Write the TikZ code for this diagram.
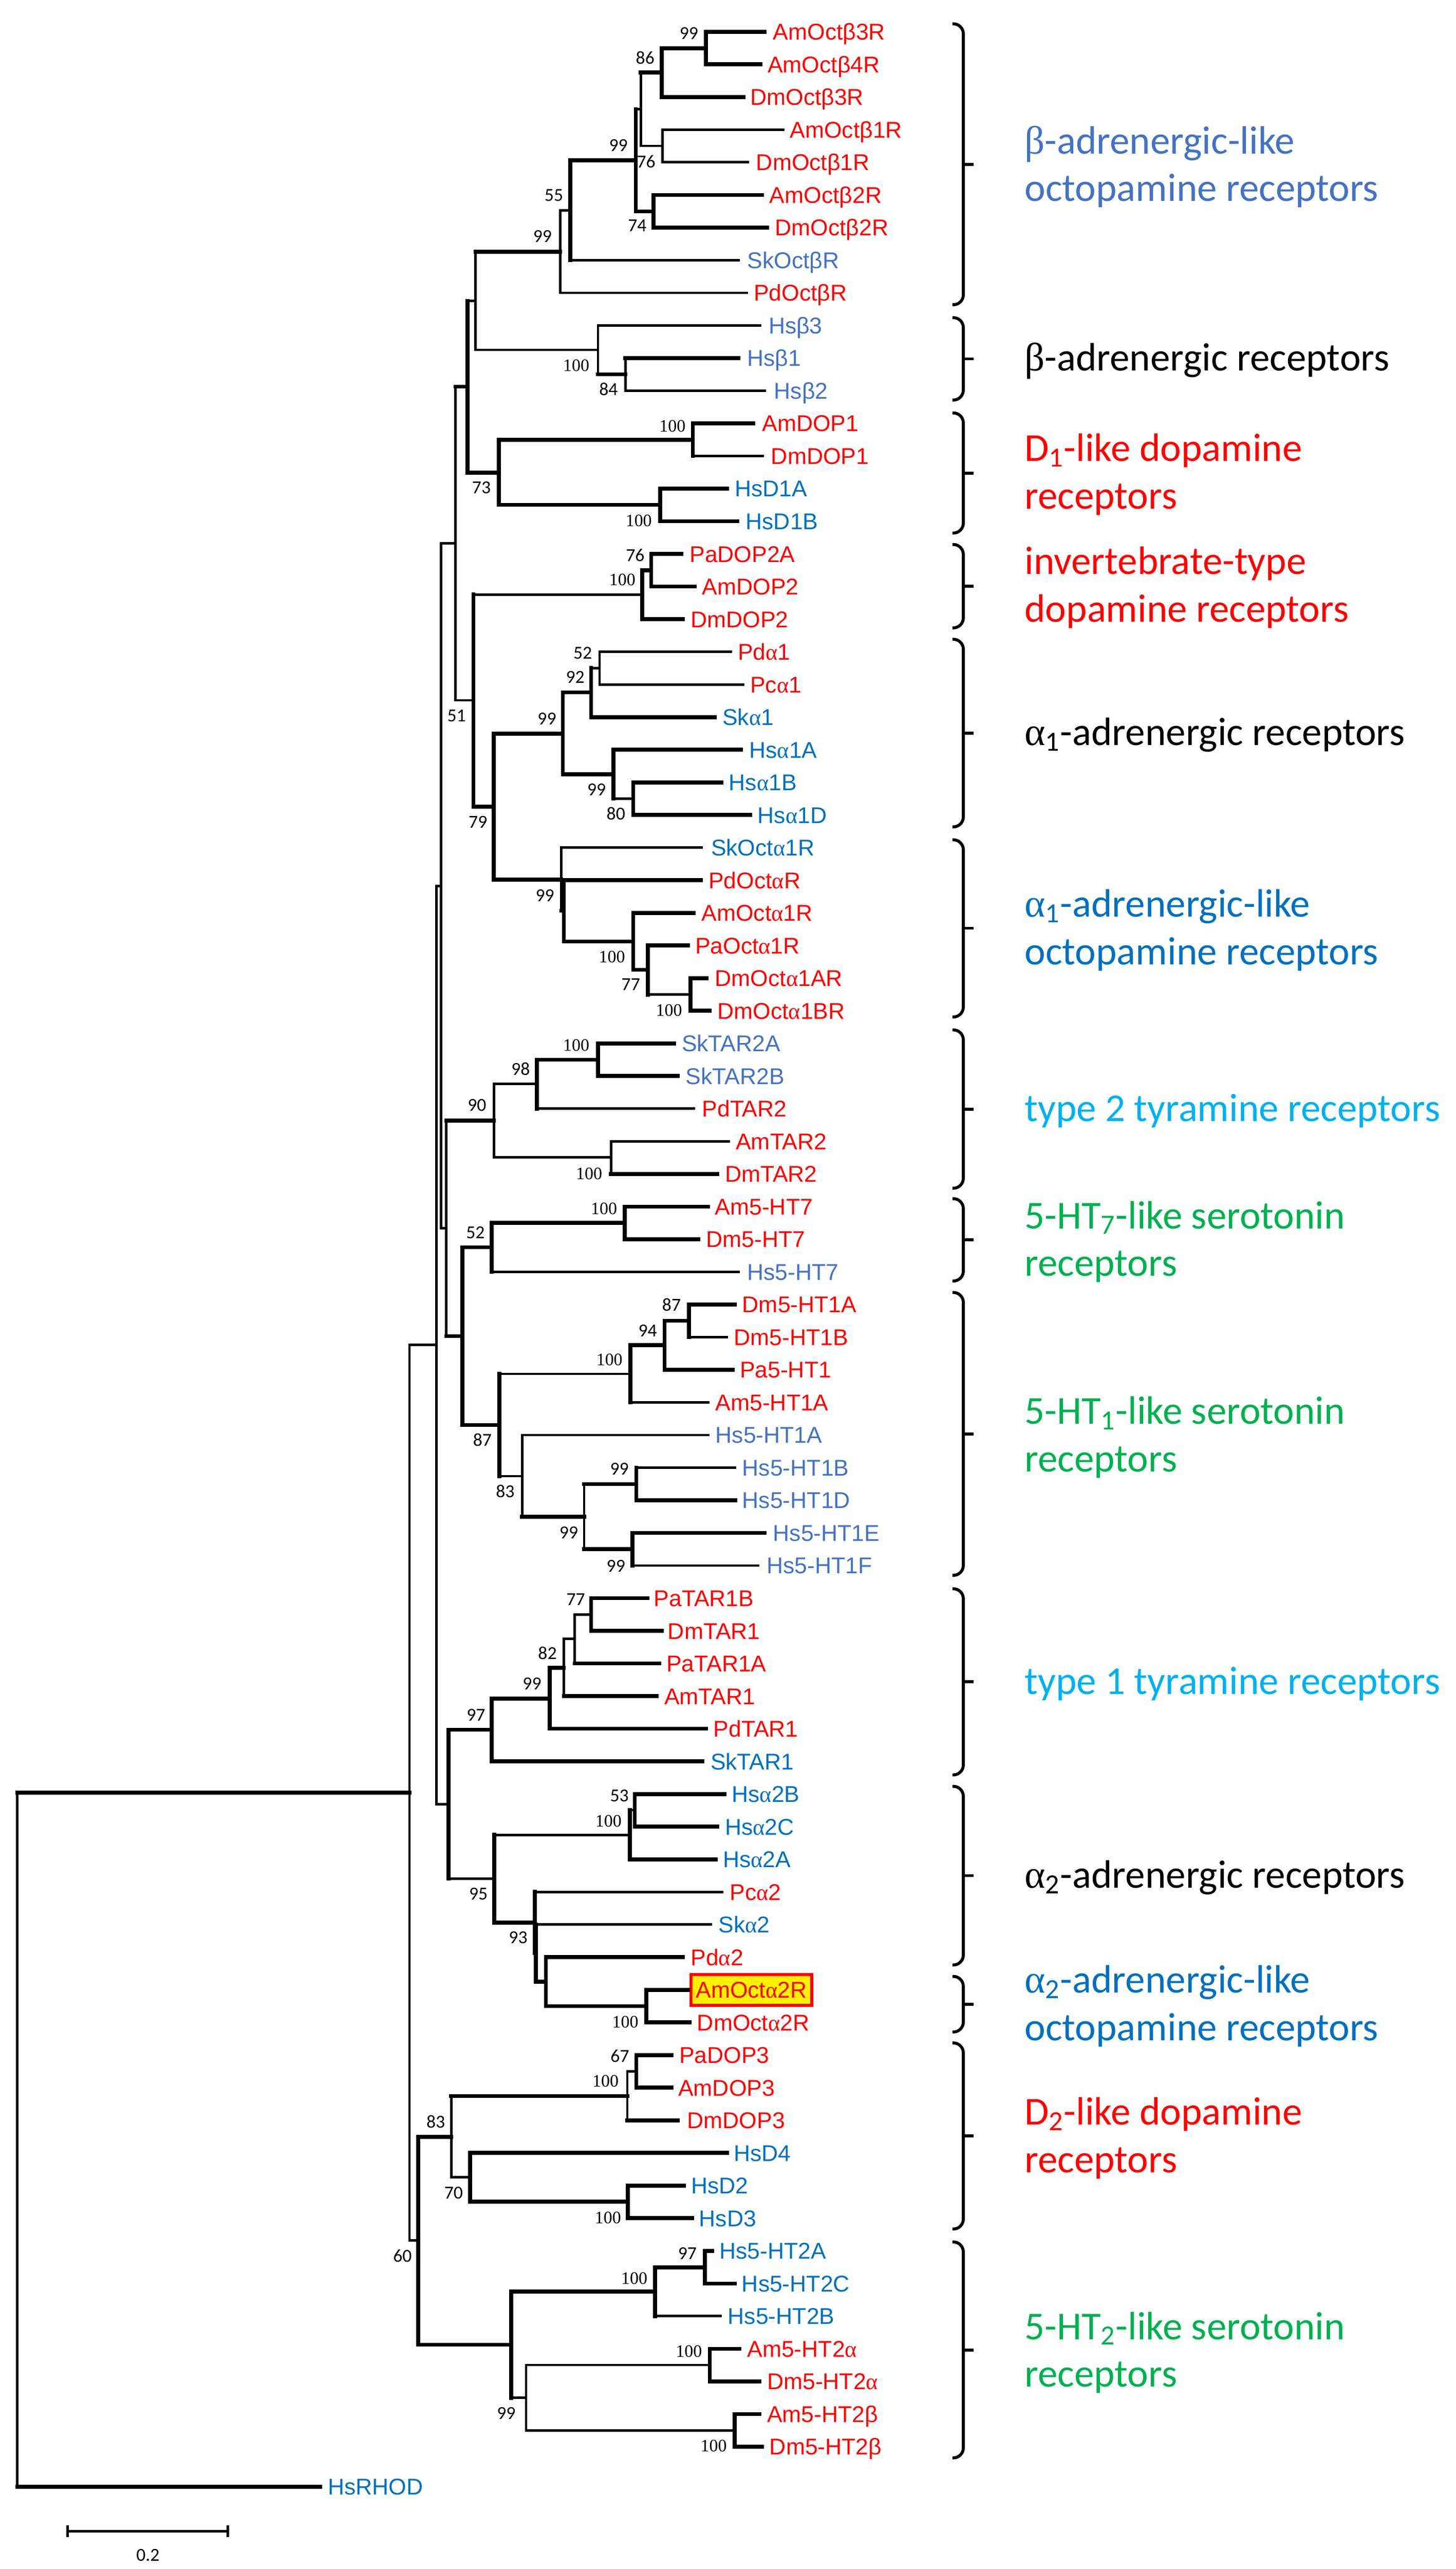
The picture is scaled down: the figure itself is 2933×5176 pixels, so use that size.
\documentclass[tikz,border=0pt]{standalone}
\usepackage{fontspec}
\newfontfamily\sansA{Liberation Sans}
\newfontfamily\serifA{Liberation Serif}
\newfontfamily\calA{Carlito}
\definecolor{rd}{HTML}{FF0000}
\definecolor{bA}{HTML}{4472C4}
\definecolor{bB}{HTML}{0070C0}
\definecolor{cy}{HTML}{00B0F0}
\definecolor{gr}{HTML}{00B050}
\newcommand\lga{{\serifA α}}
\newcommand\lgb{β}
\newcommand\GA{{\serifA α}}
\newcommand\GB{{\serifA β}}
\newcommand\tE[3][tn]{\draw[#1] (#2 |- #3) -- (#3);}
\newcommand\tV[4][tn]{\draw[#1] (#2 |- #3) -- (#2 |- #4);}
\tikzset{
 tn/.style={line width=0.5mm, line cap=rect},
 tk/.style={line width=0.8mm, line cap=rect},
 lf/.style={anchor=west, inner sep=0pt, font=\sansA\fontsize{13.1pt}{15pt}\selectfont, text height=3.3mm, text depth=0pt},
 bs/.style={inner sep=0pt, font=\calA\fontsize{10.5pt}{12pt}\selectfont, text height=2.35mm, text depth=0pt},
 bh/.style={inner sep=0pt, font=\serifA\fontsize{10pt}{12pt}\selectfont, text height=2.35mm, text depth=0pt},
 grp/.style={anchor=west, inner sep=0pt, align=left, font=\calA\fontsize{22.7pt}{27.3pt}\selectfont},
 brk/.style={line width=0.6mm, rounded corners=2mm},
}
\newcommand\brc[3]{\draw[brk] (1919,#1) -- (1941,#1) -- (1941,#2) -- (1919,#2); \draw[line width=0.6mm] (1941,#3) -- (1962,#3);}
\begin{document}
\begin{tikzpicture}[x=0.1mm,y=-0.1mm]
\useasboundingbox (0,0) rectangle (2933,5176);
% ---------- leaves ----------
\coordinate (l1) at (1541,64);      \node[lf,text=rd] (t1) at (1557,64) {AmOct\lgb 3R};
\coordinate (l2) at (1532,129.75);  \node[lf,text=rd] (t2) at (1546,129.75) {AmOct\lgb 4R};
\coordinate (l3) at (1498,195.5);   \node[lf,text=rd] (t3) at (1511,195.5) {DmOct\lgb 3R};
\coordinate (l4) at (1578,261.25);  \node[lf,text=rd] (t4) at (1591,261.25) {AmOct\lgb 1R};
\coordinate (l5) at (1507,327);     \node[lf,text=rd] (t5) at (1523,327) {DmOct\lgb 1R};
\coordinate (l6) at (1535,392.75);  \node[lf,text=rd] (t6) at (1550,392.75) {AmOct\lgb 2R};
\coordinate (l7) at (1546,458.5);   \node[lf,text=rd] (t7) at (1561,458.5) {DmOct\lgb 2R};
\coordinate (l8) at (1488,524.25);  \node[lf,text=bA] (t8) at (1505,524.25) {SkOct\lgb R};
\coordinate (l9) at (1505,590);     \node[lf,text=rd] (t9) at (1518,590) {PdOct\lgb R};
\coordinate (l10) at (1532,655.75); \node[lf,text=bA] (t10) at (1548,655.75) {Hs\lgb 3};
\coordinate (l11) at (1488,721.5);  \node[lf,text=bA] (t11) at (1505,721.5) {Hs\lgb 1};
\coordinate (l12) at (1541,787.25); \node[lf,text=bA] (t12) at (1559,787.25) {Hs\lgb 2};
\coordinate (l13) at (1518,853);    \node[lf,text=rd] (t13) at (1535,853) {AmDOP1};
\coordinate (l14) at (1537,918.75); \node[lf,text=rd] (t14) at (1553,918.75) {DmDOP1};
\coordinate (l15) at (1465,984.5);  \node[lf,text=bB] (t15) at (1480,984.5) {HsD1A};
\coordinate (l16) at (1486,1050.25);\node[lf,text=bB] (t16) at (1502,1050.25) {HsD1B};
\coordinate (l17) at (1373,1116);   \node[lf,text=rd] (t17) at (1389,1116) {PaDOP2A};
\coordinate (l18) at (1400,1181.75);\node[lf,text=rd] (t18) at (1414,1181.75) {AmDOP2};
\coordinate (l19) at (1376,1247.5); \node[lf,text=rd] (t19) at (1391,1247.5) {DmDOP2};
\coordinate (l20) at (1473,1313.25);\node[lf,text=rd] (t20) at (1486,1313.25) {Pd\lga 1};
\coordinate (l21) at (1497,1379);   \node[lf,text=rd] (t21) at (1511,1379) {Pc\lga 1};
\coordinate (l22) at (1440,1444.75);\node[lf,text=bB] (t22) at (1455,1444.75) {Sk\lga 1};
\coordinate (l23) at (1493,1510.5); \node[lf,text=bB] (t23) at (1509,1510.5) {Hs\lga 1A};
\coordinate (l24) at (1454,1576.25);\node[lf,text=bB] (t24) at (1468,1576.25) {Hs\lga 1B};
\coordinate (l25) at (1511,1642);   \node[lf,text=bB] (t25) at (1526,1642) {Hs\lga 1D};
\coordinate (l26) at (1414,1707.75);\node[lf,text=bB] (t26) at (1432,1707.75) {SkOct\lga 1R};
\coordinate (l27) at (1412,1773.5); \node[lf,text=rd] (t27) at (1427,1773.5) {PdOct\lga R};
\coordinate (l28) at (1398,1839.25);\node[lf,text=rd] (t28) at (1413,1839.25) {AmOct\lga 1R};
\coordinate (l29) at (1386,1905);   \node[lf,text=rd] (t29) at (1400,1905) {PaOct\lga 1R};
\coordinate (l30) at (1424,1970.75);\node[lf,text=rd] (t30) at (1440,1970.75) {DmOct\lga 1AR};
\coordinate (l31) at (1430,2036.5); \node[lf,text=rd] (t31) at (1445,2036.5) {DmOct\lga 1BR};
\coordinate (l32) at (1358,2102.25);\node[lf,text=bA] (t32) at (1373,2102.25) {SkTAR2A};
\coordinate (l33) at (1366,2168);   \node[lf,text=bA] (t33) at (1381,2168) {SkTAR2B};
\coordinate (l34) at (1398,2233.75);\node[lf,text=rd] (t34) at (1414,2233.75) {PdTAR2};
\coordinate (l35) at (1468,2299.5); \node[lf,text=rd] (t35) at (1482,2299.5) {AmTAR2};
\coordinate (l36) at (1445,2365.25);\node[lf,text=rd] (t36) at (1460,2365.25) {DmTAR2};
\coordinate (l37) at (1427,2431);   \node[lf,text=rd] (t37) at (1440,2431) {Am5-HT7};
\coordinate (l38) at (1407,2496.75);\node[lf,text=rd] (t38) at (1422,2496.75) {Dm5-HT7};
\coordinate (l39) at (1488,2562.5); \node[lf,text=bA] (t39) at (1505,2562.5) {Hs5-HT7};
\coordinate (l40) at (1480,2628.25);\node[lf,text=rd] (t40) at (1495,2628.25) {Dm5-HT1A};
\coordinate (l41) at (1464,2694);   \node[lf,text=rd] (t41) at (1478,2694) {Dm5-HT1B};
\coordinate (l42) at (1476,2759.75);\node[lf,text=rd] (t42) at (1490,2759.75) {Pa5-HT1};
\coordinate (l43) at (1427,2825.5); \node[lf,text=rd] (t43) at (1441,2825.5) {Am5-HT1A};
\coordinate (l44) at (1427,2891.25);\node[lf,text=bA] (t44) at (1441,2891.25) {Hs5-HT1A};
\coordinate (l45) at (1481,2957);   \node[lf,text=bA] (t45) at (1495,2957) {Hs5-HT1B};
\coordinate (l46) at (1481,3022.75);\node[lf,text=bA] (t46) at (1495,3022.75) {Hs5-HT1D};
\coordinate (l47) at (1541,3088.5); \node[lf,text=bA] (t47) at (1557,3088.5) {Hs5-HT1E};
\coordinate (l48) at (1527,3154.25);\node[lf,text=bA] (t48) at (1544,3154.25) {Hs5-HT1F};
\coordinate (l49) at (1304,3220);   \node[lf,text=rd] (t49) at (1317,3220) {PaTAR1B};
\coordinate (l50) at (1333,3285.75);\node[lf,text=rd] (t50) at (1345,3285.75) {DmTAR1};
\coordinate (l51) at (1328,3351.5); \node[lf,text=rd] (t51) at (1342,3351.5) {PaTAR1A};
\coordinate (l52) at (1323,3417.25);\node[lf,text=rd] (t52) at (1338,3417.25) {AmTAR1};
\coordinate (l53) at (1423,3483);   \node[lf,text=rd] (t53) at (1437,3483) {PdTAR1};
\coordinate (l54) at (1415,3548.75);\node[lf,text=bB] (t54) at (1431,3548.75) {SkTAR1};
\coordinate (l55) at (1460,3614.5); \node[lf,text=bB] (t55) at (1474,3614.5) {Hs\lga 2B};
\coordinate (l56) at (1445,3680.25);\node[lf,text=bB] (t56) at (1460,3680.25) {Hs\lga 2C};
\coordinate (l57) at (1442,3746);   \node[lf,text=bB] (t57) at (1456,3746) {Hs\lga 2A};
\coordinate (l58) at (1455,3811.75);\node[lf,text=rd] (t58) at (1470,3811.75) {Pc\lga 2};
\coordinate (l59) at (1432,3877.5); \node[lf,text=bB] (t59) at (1447,3877.5) {Sk\lga 2};
\coordinate (l60) at (1376,3943.25);\node[lf,text=rd] (t60) at (1391,3943.25) {Pd\lga 2};
\coordinate (l61) at (1386,4009);   \node[lf,text=rd,fill=yellow,draw=rd,line width=0.6mm,inner xsep=1.0mm,inner ysep=1.45mm] (t61) at (1389,4009) {AmOct\lga 2R};
\coordinate (l62) at (1389,4074.75);\node[lf,text=rd] (t62) at (1404,4074.75) {DmOct\lga 2R};
\coordinate (l63) at (1353,4140.5); \node[lf,text=rd] (t63) at (1368,4140.5) {PaDOP3};
\coordinate (l64) at (1353,4206.25);\node[lf,text=rd] (t64) at (1366,4206.25) {AmDOP3};
\coordinate (l65) at (1366,4272);   \node[lf,text=rd] (t65) at (1384,4272) {DmDOP3};
\coordinate (l66) at (1465,4337.75);\node[lf,text=bB] (t66) at (1478,4337.75) {HsD4};
\coordinate (l67) at (1378,4403.5); \node[lf,text=bB] (t67) at (1392,4403.5) {HsD2};
\coordinate (l68) at (1395,4469.25);\node[lf,text=bB] (t68) at (1408,4469.25) {HsD3};
\coordinate (l69) at (1435,4535);   \node[lf,text=bB] (t69) at (1449,4535) {Hs5-HT2A};
\coordinate (l70) at (1480,4600.75);\node[lf,text=bB] (t70) at (1494,4600.75) {Hs5-HT2C};
\coordinate (l71) at (1452,4666.5); \node[lf,text=bB] (t71) at (1466,4666.5) {Hs5-HT2B};
\coordinate (l72) at (1490,4732.25);\node[lf,text=rd] (t72) at (1505,4732.25) {Am5-HT2\lga};
\coordinate (l73) at (1530,4798);   \node[lf,text=rd] (t73) at (1545,4798) {Dm5-HT2\lga};
\coordinate (l74) at (1530,4863.75);\node[lf,text=rd] (t74) at (1545,4863.75) {Am5-HT2\lgb};
\coordinate (l75) at (1535,4929.5); \node[lf,text=rd] (t75) at (1550,4929.5) {Dm5-HT2\lgb};
\coordinate (l76) at (645,5010);    \node[lf,text=bB] (t76) at (660,5010) {HsRHOD};
% ---------- internal nodes ----------
\coordinate (nA) at (1422,97);
\coordinate (nB) at (1333,146);
\coordinate (nC) at (1335,294);
\coordinate (nD) at (1291,220);
\coordinate (nF) at (1317,426);
\coordinate (nE) at (1281,323);
\coordinate (nG) at (1149,424);
\coordinate (nH) at (1129,507);
\coordinate (nK) at (1260,754);
\coordinate (nJ) at (1205,705);
\coordinate (nI) at (958,606);
\coordinate (nN) at (1396,886);
\coordinate (nO) at (1330,1017);
\coordinate (nM) at (1005,952);
\coordinate (nL) at (942,779);
\coordinate (nS) at (1312,1149);
\coordinate (nR) at (1294,1198);
\coordinate (nT52) at (1208,1346);
\coordinate (nT92) at (1191,1395);
\coordinate (nT80) at (1276,1609);
\coordinate (nHa1) at (1236,1560);
\coordinate (nT99) at (1134,1478);
\coordinate (nY) at (1391,2004);
\coordinate (nPaO) at (1305,1954);
\coordinate (nW) at (1276,1897);
\coordinate (nX) at (1136,1835);
\coordinate (nV) at (1131,1772);
\coordinate (nU) at (995,1625);
\coordinate (nQ) at (954,1411);
\coordinate (nP) at (918,1095);
\coordinate (nSk2) at (1205,2135);
\coordinate (n98) at (1082,2184);
\coordinate (nAT2) at (1231,2332);
\coordinate (n90) at (995,2258);
\coordinate (n7in) at (1259,2464);
\coordinate (n52) at (991,2513);
\coordinate (n87in) at (1388,2661);
\coordinate (n94) at (1339,2710);
\coordinate (n100h) at (1270,2768);
\coordinate (nBD) at (1282,2990);
\coordinate (nEF) at (1274,3121);
\coordinate (nH99) at (1177,3056);
\coordinate (nH83) at (1052,2974);
\coordinate (n5HT1) at (1006,2871);
\coordinate (nZ5) at (932,2692);
\coordinate (nZ4) at (899,2475);
\coordinate (nZ1) at (889,1785);
\coordinate (n77) at (1191,3253);
\coordinate (nT1n) at (1158,3302);
\coordinate (n82) at (1136,3360);
\coordinate (nT199) at (1108,3422);
\coordinate (n97) at (991,3485);
\coordinate (n53) at (1279,3647);
\coordinate (nHa2) at (1269,3697);
\coordinate (nAO2) at (1302,4042);
\coordinate (nPd2) at (1100,3993);
\coordinate (n93b) at (1080,3935);
\coordinate (n93a) at (1078,3874);
\coordinate (n95) at (996,3785);
\coordinate (nA3) at (904,3635);
\coordinate (nA1) at (879,2710);
\coordinate (n67) at (1282,4173);
\coordinate (nD2i) at (1264,4223);
\coordinate (nD23) at (1265,4436);
\coordinate (n70) at (947,4387);
\coordinate (n83) at (909,4305);
\coordinate (n97h) at (1420,4568);
\coordinate (nH100) at (1320,4617);
\coordinate (nal) at (1430,4765);
\coordinate (nbe) at (1480,4897);
\coordinate (ninv) at (1060,4831);
\coordinate (n99b) at (1030,4724);
\coordinate (n60) at (843,4514);
\coordinate (nR1) at (825,3612);
\coordinate (nroot) at (35,4300);
% ---------- branches ----------
\tV[tk]{nA}{l1}{l2} \tE[tk]{nA}{l1} \tE[tk]{nA}{l2}
\tV[tk]{nB}{nA}{l3} \tE[tk]{nB}{nA} \tE[tk]{nB}{l3}
\tV{nC}{l4}{l5} \tE{nC}{l4} \tE{nC}{l5}
\tV{nD}{nB}{nC} \tE[tk]{nD}{nB} \tE{nD}{nC}
\tV[tk]{nF}{l6}{l7} \tE[tk]{nF}{l6} \tE[tk]{nF}{l7}
\tV[tk]{nE}{nD}{nF} \tE{nE}{nD} \tE[tk]{nE}{nF}
\tV[tk]{nG}{nE}{l8} \tE[tk]{nG}{nE} \tE{nG}{l8}
\tV{nH}{nG}{l9} \tE{nH}{nG} \tE{nH}{l9}
\tV{nK}{l11}{l12} \tE[tk]{nK}{l11} \tE{nK}{l12}
\tV{nJ}{l10}{nK} \tE{nJ}{l10} \tE[tk]{nJ}{nK}
\tV{nI}{nH}{nJ} \tE[tk]{nI}{nH} \tE{nI}{nJ}
\tV[tk]{nN}{l13}{l14} \tE[tk]{nN}{l13} \tE{nN}{l14}
\tV[tk]{nO}{l15}{l16} \tE[tk]{nO}{l15} \tE[tk]{nO}{l16}
\tV[tk]{nM}{nN}{nO} \tE[tk]{nM}{nN} \tE[tk]{nM}{nO}
\tV[tk]{nL}{nI}{nM} \tE{nL}{nI} \tE[tk]{nL}{nM}
\tV[tk]{nS}{l17}{l18} \tE[tk]{nS}{l17} \tE[tk]{nS}{l18}
\tV[tk]{nR}{nS}{l19} \tE[tk]{nR}{nS} \tE[tk]{nR}{l19}
\tV{nT52}{l20}{l21} \tE{nT52}{l20} \tE{nT52}{l21}
\tV[tk]{nT92}{nT52}{l22} \tE{nT92}{nT52} \tE[tk]{nT92}{l22}
\tV[tk]{nT80}{l24}{l25} \tE[tk]{nT80}{l24} \tE[tk]{nT80}{l25}
\tV[tk]{nHa1}{l23}{nT80} \tE[tk]{nHa1}{l23} \tE{nHa1}{nT80}
\tV[tk]{nT99}{nT92}{nHa1} \tE[tk]{nT99}{nT92} \tE[tk]{nT99}{nHa1}
\tV[tk]{nY}{l30}{l31} \tE[tk]{nY}{l30} \tE[tk]{nY}{l31}
\tV[tk]{nPaO}{l29}{nY} \tE[tk]{nPaO}{l29} \tE{nPaO}{nY}
\tV[tk]{nW}{l28}{nPaO} \tE[tk]{nW}{l28} \tE[tk]{nW}{nPaO}
\tV[tk]{nX}{l27}{nW} \tE[tk]{nX}{l27} \tE[tk]{nX}{nW}
\tV{nV}{l26}{nX} \tE{nV}{l26} \tE[tk]{nV}{nX}
\tV[tk]{nU}{nT99}{nV} \tE[tk]{nU}{nT99} \tE[tk]{nU}{nV}
\tV[tk]{nQ}{nR}{nU} \tE{nQ}{nR} \tE[tk]{nQ}{nU}
\tV{nP}{nL}{nQ} \tE[tk]{nP}{nL} \tE{nP}{nQ}
\tV[tk]{nSk2}{l32}{l33} \tE[tk]{nSk2}{l32} \tE[tk]{nSk2}{l33}
\tV[tk]{n98}{nSk2}{l34} \tE[tk]{n98}{nSk2} \tE{n98}{l34}
\tV{nAT2}{l35}{l36} \tE{nAT2}{l35} \tE[tk]{nAT2}{l36}
\tV{n90}{n98}{nAT2} \tE{n90}{n98} \tE{n90}{nAT2}
\tV[tk]{n7in}{l37}{l38} \tE[tk]{n7in}{l37} \tE[tk]{n7in}{l38}
\tV[tk]{n52}{n7in}{l39} \tE[tk]{n52}{n7in} \tE{n52}{l39}
\tV[tk]{n87in}{l40}{l41} \tE[tk]{n87in}{l40} \tE{n87in}{l41}
\tV[tk]{n94}{n87in}{l42} \tE[tk]{n94}{n87in} \tE[tk]{n94}{l42}
\tV[tk]{n100h}{n94}{l43} \tE[tk]{n100h}{n94} \tE{n100h}{l43}
\tV[tk]{nBD}{l45}{l46} \tE{nBD}{l45} \tE[tk]{nBD}{l46}
\tV[tk]{nEF}{l47}{l48} \tE[tk]{nEF}{l47} \tE{nEF}{l48}
\tV{nH99}{nBD}{nEF} \tE[tk]{nH99}{nBD} \tE[tk]{nH99}{nEF}
\tV{nH83}{l44}{nH99} \tE{nH83}{l44} \tE[tk]{nH83}{nH99}
\tV[tk]{n5HT1}{n100h}{nH83} \tE{n5HT1}{n100h} \tE{n5HT1}{nH83}
\tV[tk]{nZ5}{n52}{n5HT1} \tE[tk]{nZ5}{n52} \tE[tk]{nZ5}{n5HT1}
\tV{nZ4}{n90}{nZ5} \tE[tk]{nZ4}{n90} \tE[tk]{nZ4}{nZ5}
\tV{nZ1}{nP}{nZ4} \tE{nZ1}{nP} \tE{nZ1}{nZ4}
\tV[tk]{n77}{l49}{l50} \tE[tk]{n77}{l49} \tE[tk]{n77}{l50}
\tV{nT1n}{n77}{l51} \tE{nT1n}{n77} \tE[tk]{nT1n}{l51}
\tV{n82}{nT1n}{l52} \tE{n82}{nT1n} \tE[tk]{n82}{l52}
\tV[tk]{nT199}{n82}{l53} \tE[tk]{nT199}{n82} \tE[tk]{nT199}{l53}
\tV[tk]{n97}{nT199}{l54} \tE[tk]{n97}{nT199} \tE[tk]{n97}{l54}
\tV[tk]{n53}{l55}{l56} \tE[tk]{n53}{l55} \tE[tk]{n53}{l56}
\tV[tk]{nHa2}{n53}{l57} \tE{nHa2}{n53} \tE[tk]{nHa2}{l57}
\tV[tk]{nAO2}{l61}{l62} \tE[tk]{nAO2}{l61} \tE[tk]{nAO2}{l62}
\tV[tk]{nPd2}{l60}{nAO2} \tE[tk]{nPd2}{l60} \tE[tk]{nPd2}{nAO2}
\tV[tk]{n93b}{l59}{nPd2} \tE{n93b}{l59} \tE[tk]{n93b}{nPd2}
\tV[tk]{n93a}{l58}{n93b} \tE{n93a}{l58} \tE[tk]{n93a}{n93b}
\tV[tk]{n95}{nHa2}{n93a} \tE{n95}{nHa2} \tE[tk]{n95}{n93a}
\tV[tk]{nA3}{n97}{n95} \tE[tk]{nA3}{n97} \tE{nA3}{n95}
\tV{nA1}{nZ1}{nA3} \tE{nA1}{nZ1} \tE{nA1}{nA3}
\tV[tk]{n67}{l63}{l64} \tE[tk]{n67}{l63} \tE[tk]{n67}{l64}
\tV{nD2i}{n67}{l65} \tE{nD2i}{n67} \tE[tk]{nD2i}{l65}
\tV[tk]{nD23}{l67}{l68} \tE[tk]{nD23}{l67} \tE[tk]{nD23}{l68}
\tV[tk]{n70}{l66}{nD23} \tE[tk]{n70}{l66} \tE[tk]{n70}{nD23}
\tV{n83}{nD2i}{n70} \tE[tk]{n83}{nD2i} \tE{n83}{n70}
\tV[tk]{n97h}{l69}{l70} \tE[tk]{n97h}{l69} \tE[tk]{n97h}{l70}
\tV[tk]{nH100}{n97h}{l71} \tE[tk]{nH100}{n97h} \tE{nH100}{l71}
\tV[tk]{nal}{l72}{l73} \tE[tk]{nal}{l72} \tE[tk]{nal}{l73}
\tV[tk]{nbe}{l74}{l75} \tE[tk]{nbe}{l74} \tE[tk]{nbe}{l75}
\tV{ninv}{nal}{nbe} \tE{ninv}{nal} \tE{ninv}{nbe}
\tV[tk]{n99b}{nH100}{ninv} \tE[tk]{n99b}{nH100} \tE{n99b}{ninv}
\tV[tk]{n60}{n83}{n99b} \tE[tk]{n60}{n83} \tE[tk]{n60}{n99b}
\tV{nR1}{nA1}{n60} \tE{nR1}{nA1} \tE{nR1}{n60}
\tV{nroot}{nR1}{l76} \tE[tk]{nroot}{nR1} \tE[tk]{nroot}{l76}
% ---------- bootstrap values ----------
\node[bs] (b1) at (1388,67) {99};
\node[bs] (b2) at (1300,117) {86};
\node[bs] (b3) at (1246,293) {99};
\node[bs] (b4) at (1302,326) {76};
\node[bs] (b5) at (1116,394) {55};
\node[bs] (b6) at (1284,455) {74};
\node[bs] (b7) at (1093,476) {99};
\node[bh] (b8) at (1161,736) {100};
\node[bs] (b9) at (1226,785) {84};
\node[bh] (b10) at (1355,858) {100};
\node[bs] (b11) at (970,983) {73};
\node[bh] (b12) at (1287,1049) {100};
\node[bs] (b13) at (1280,1119) {76};
\node[bh] (b14) at (1254,1168) {100};
\node[bs] (b15) at (1174,1316) {52};
\node[bs] (b16) at (1159,1365) {92};
\node[bs] (b17) at (920,1442) {51};
\node[bs] (b18) at (1102,1448) {99};
\node[bs] (b19) at (1202,1591) {99};
\node[bs] (b20) at (1241,1640) {80};
\node[bs] (b21) at (963,1656) {79};
\node[bs] (b22) at (1098,1804) {99};
\node[bh] (b23) at (1233,1928) {100};
\node[bs] (b24) at (1271,1984) {77};
\node[bh] (b25) at (1348,2035) {100};
\node[bh] (b26) at (1161,2106) {100};
\node[bs] (b27) at (1049,2154) {98};
\node[bs] (b28) at (961,2227) {90};
\node[bh] (b29) at (1187,2364) {100};
\node[bh] (b30) at (1217,2435) {100};
\node[bs] (b31) at (958,2484) {52};
\node[bs] (b32) at (1353,2630) {87};
\node[bs] (b33) at (1305,2681) {94};
\node[bh] (b34) at (1228,2739) {100};
\node[bs] (b35) at (972,2902) {87};
\node[bs] (b36) at (1018,3005) {83};
\node[bs] (b37) at (1248,2960) {99};
\node[bs] (b38) at (1146,3088) {99};
\node[bs] (b39) at (1241,3155) {99};
\node[bs] (b40) at (1160,3223) {77};
\node[bs] (b41) at (1103,3331) {82};
\node[bs] (b42) at (1072,3392) {99};
\node[bs] (b43) at (959,3456) {97};
\node[bs] (b44) at (1248,3618) {53};
\node[bh] (b45) at (1226,3669) {100};
\node[bs] (b46) at (964,3816) {95};
\node[bs] (b47) at (1044,3904) {93};
\node[bh] (b48) at (1260,4074) {100};
\node[bs] (b49) at (1249,4143) {67};
\node[bh] (b50) at (1220,4193) {100};
\node[bs] (b51) at (878,4275) {83};
\node[bs] (b52) at (914,4418) {70};
\node[bh] (b53) at (1225,4468) {100};
\node[bs] (b54) at (1385,4540) {97};
\node[bh] (b55) at (1278,4590) {100};
\node[bh] (b56) at (1388,4737) {100};
\node[bh] (b57) at (1438,4928) {100};
\node[bs] (b58) at (1020,4862) {99};
\node[bs] (b59) at (811,4546) {60};
% ---------- brackets and group labels ----------
\brc{48}{614}{331}
\node[grp,text=bA] (g1) at (2064,336) {\GB-adrenergic-like\\octopamine receptors};
\brc{640}{806}{723}
\node[grp] (g2) at (2064,727) {\GB-adrenergic receptors};
\brc{832}{1074}{953}
\node[grp,text=rd] (g3) at (2064,956) {D\textsubscript{1}-like dopamine\\receptors};
\brc{1097}{1265}{1181}
\node[grp,text=rd] (g4) at (2064,1184) {invertebrate-type\\dopamine receptors};
\brc{1288}{1666}{1477}
\node[grp] (g5) at (2064,1481) {\GA\textsubscript{1}-adrenergic receptors};
\brc{1692}{2049}{1870}
\node[grp,text=bB] (g6) at (2064,1874) {\GA\textsubscript{1}-adrenergic-like\\octopamine receptors};
\brc{2075}{2394}{2235}
\node[grp,text=cy] (g7) at (2064,2238) {type 2 tyramine receptors};
\brc{2415}{2581}{2498}
\node[grp,text=gr] (g8) at (2064,2502) {5-HT\textsubscript{7}-like serotonin\\receptors};
\brc{2604}{3174}{2889}
\node[grp,text=gr] (g9) at (2064,2896) {5-HT\textsubscript{1}-like serotonin\\receptors};
\brc{3201}{3576}{3388}
\node[grp,text=cy] (g10) at (2064,3392) {type 1 tyramine receptors};
\brc{3599}{3959}{3779}
\node[grp] (g11) at (2064,3783) {\GA\textsubscript{2}-adrenergic receptors};
\brc{3982}{4094}{4038}
\node[grp,text=bB] (g12) at (2064,4042) {\GA\textsubscript{2}-adrenergic-like\\octopamine receptors};
\brc{4116}{4491}{4303}
\node[grp,text=rd] (g13) at (2064,4308) {D\textsubscript{2}-like dopamine\\receptors};
\brc{4517}{4952}{4735}
\node[grp,text=gr] (g14) at (2064,4740) {5-HT\textsubscript{2}-like serotonin\\receptors};
% ---------- scale bar ----------
\coordinate (s1) at (136,5100);
\coordinate (s2) at (459,5100);
\draw[line width=0.5mm] (s1) -- (s2);
\draw[line width=0.5mm] ([yshift=1.2mm]s1) -- ([yshift=-1.2mm]s1);
\draw[line width=0.5mm] ([yshift=1.2mm]s2) -- ([yshift=-1.2mm]s2);
\node[bs] (sl) at (298,5148) {0.2};
\end{tikzpicture}
\end{document}
